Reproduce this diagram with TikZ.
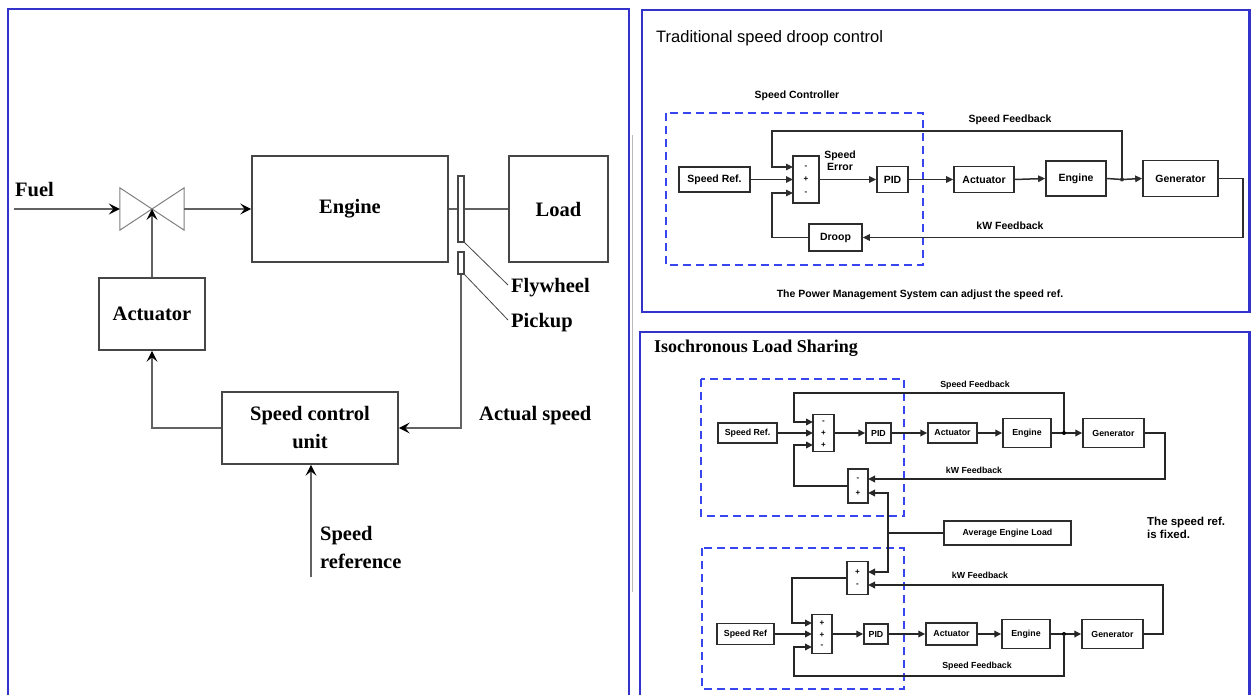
\documentclass[tikz,border=0pt]{standalone}
\usepackage{fontspec}
\setmainfont{Liberation Serif}
\newfontfamily\ars{Liberation Sans}
\usetikzlibrary{arrows.meta,calc}
\definecolor{pblue}{RGB}{51,51,204}
\definecolor{dblue}{RGB}{55,70,238}
\definecolor{lg}{RGB}{70,70,70}
\definecolor{tg}{RGB}{45,45,45}
\newcommand{\lpfont}{\fontsize{20.5}{25}\selectfont\bfseries}
\newcommand{\lptwo}{\fontsize{20.5}{28}\selectfont\bfseries}
\newcommand{\tpfont}{\ars\fontsize{10.5}{12}\selectfont\bfseries}
\newcommand{\bpfont}{\ars\fontsize{8.8}{10}\selectfont\bfseries}
\newcommand{\sgfont}{\ars\fontsize{8}{8}\selectfont\bfseries}
\begin{document}
\begin{tikzpicture}[x=1pt,y=-1pt,
  panel/.style={draw=pblue,line width=2.2pt},
  ctrl/.style={draw=dblue,line width=2.3pt,dash pattern=on 8pt off 5pt},
  lbox/.style={draw=lg,line width=1.6pt,inner sep=0pt,font=\lpfont},
  lline/.style={draw=lg!85,line width=1.2pt},
  larr/.style={lline,-{Stealth[length=11pt,width=11pt,inset=4.5pt,color=black]}},
  llab/.style={font=\lpfont,inner sep=0pt},
  tbox/.style={draw=tg,line width=1.7pt,inner sep=0pt,font=\tpfont},
  tline/.style={draw=tg,line width=1.5pt},
  tarr/.style={tline,-{Triangle[length=7pt,width=6.5pt]}},
  tlab/.style={font=\tpfont,inner sep=0pt},
  bbox/.style={draw=tg,line width=1.5pt,inner sep=0pt,font=\bpfont},
  bline/.style={draw=black!85,line width=2.1pt},
  barr/.style={bline,-{Triangle[length=7pt,width=6.5pt]}},
  blab/.style={font=\bpfont,inner sep=0pt},
  sgn/.style={font=\sgfont,inner sep=0pt},
]
\useasboundingbox (0,0) rectangle (1251,695);
\clip (0,0) rectangle (1251,695);
\fill[white] (0,0) rectangle (1251,695);

% ---------------- panels ----------------
\draw[panel] (8,720) -- (8,9) -- (629,9) -- (629,720);
\draw[gray!55,line width=0.9pt] (632,135) -- (632,592);
\draw[panel] (642,10) rectangle (1249.5,312);
\draw[panel] (640,720) -- (640,332) -- (1249.5,332) -- (1249.5,720);

% ---------------- left panel ----------------
\node[lbox,minimum width=196pt,minimum height=106pt] (eng) at (350,209) {Engine};
\node[lbox,minimum width=99pt,minimum height=106pt] (load) at (558.5,209) {Load};
\node[lbox,minimum width=106pt,minimum height=72pt] (act) at (152,314) {Actuator};
\node[lbox,minimum width=176pt,minimum height=72pt,align=center,font=\lptwo] (scu) at (310,428) {Speed control\\unit};
\node[draw=lg,line width=1.1pt,minimum width=6pt,minimum height=66pt,inner sep=0pt] (fly) at (461,209) {};
\node[draw=lg,line width=1.1pt,minimum width=6pt,minimum height=22pt,inner sep=0pt] (pick) at (461,263) {};
\node[minimum width=64pt,minimum height=42pt,inner sep=0pt] (valve) at (152,209) {};
\draw[draw=gray,line width=1pt] (valve.north west) -- (valve.south east) -- (valve.north east) -- (valve.south west) -- cycle;

\node[llab,anchor=west] (fuel) at (15,190) {Fuel};
\coordinate (fuelin) at (14,209);
\draw[larr] (fuelin) -- (valve.west);
\draw[larr] (valve.east) -- (eng.west);
\draw[larr] (act.north) -- (valve.center);
\draw[lline] (eng.east) -- (fly.west);
\draw[lline] (fly.east) -- (load.west);
\node[llab,anchor=west] (flylab) at (511,288) {Flywheel};
\node[llab,anchor=west] (picklab) at (511,323) {Pickup};
\draw[draw=lg,line width=0.8pt] (fly.south east) -- ([xshift=-3pt,yshift=3pt]flylab.west);
\draw[draw=lg,line width=0.8pt] (pick.south east) -- ([xshift=-3pt,yshift=3pt]picklab.west);
\draw[larr] (pick.south) |- (scu.east);
\draw[larr] (scu.west) -| (act.south);
\node[llab,anchor=west] (actual) at (479,416) {Actual speed};
\coordinate (sref) at (311,577);
\draw[larr] (sref) -- (scu.south -| sref);
\node[llab,anchor=north west,align=left,font=\lptwo] (srlab) at (320,526) {Speed\\reference};

% ---------------- top-right panel ----------------
\node[anchor=west,inner sep=0pt,font=\ars\fontsize{16.5}{20}\selectfont] (t1) at (656,38) {Traditional speed droop control};
\node[tlab] (scl) at (797,96) {Speed Controller};
\draw[ctrl] (666,113) rectangle (923,265);
\node[tbox,minimum width=71pt,minimum height=25pt] (sr1) at (714.5,179.5) {Speed Ref.};
\node[tbox,minimum width=26pt,minimum height=47pt] (s1) at (806,179.5) {};
\node[sgn] (s1a) at (806,167) {-};
\node[sgn] (s1b) at (806,179.5) {+};
\node[sgn] (s1c) at (806,193) {-};
\node[tbox,minimum width=31pt,minimum height=26pt] (pid1) at (892.5,179.5) {PID};
\node[tbox,minimum width=60pt,minimum height=26pt] (ac1) at (984,179.5) {Actuator};
\node[tbox,minimum width=60pt,minimum height=35pt] (en1) at (1076,178.5) {Engine};
\node[tbox,minimum width=75pt,minimum height=36pt] (ge1) at (1180.5,178.5) {Generator};
\node[tbox,minimum width=53pt,minimum height=27pt] (dr1) at (835.5,237.5) {Droop};
\coordinate (j1) at (1122,179.5);
\coordinate (s1i1) at (793,167);
\coordinate (s1i2) at (793,179.5);
\coordinate (s1i3) at (793,193);
\coordinate (sf1) at (772,131);
\coordinate (kw1) at (1243,237.5);
\coordinate (dl1) at (772,237.5);
\draw[tarr] (sr1.east) -- (s1i2);
\draw[tarr] (j1) |- (sf1) |- (s1i1);
\draw[tarr] (dr1.west) -- (dl1) |- (s1i3);
\draw[tarr] (s1.east) -- (pid1.west);
\draw[tarr] (pid1.east) -- (ac1.west);
\draw[tarr] (ac1.east) -- (en1.west);
\draw[tline] (en1.east) -- (j1);
\draw[tarr] (j1) -- (ge1.west);
\fill[tg] (j1) circle (2pt);
\draw[tarr] (ge1.east) -| (kw1) -- (dr1.east);
\node[tlab,align=center,font=\ars\fontsize{10.5}{12}\selectfont\bfseries] (serr) at (840,161) {Speed\\Error};
\node[tlab] (sfl1) at (1010,120) {Speed Feedback};
\node[tlab] (kwl1) at (1010,226) {kW Feedback};
\node[tlab] (pm) at (920,295) {The Power Management System can adjust the speed ref.};

% ---------------- bottom-right panel ----------------
\node[anchor=west,inner sep=0pt,font=\fontsize{18}{20}\selectfont\bfseries] (t2) at (654,348) {Isochronous Load Sharing};
\draw[ctrl] (701,379) rectangle (904,516);
\draw[ctrl] (702,548) rectangle (904,689);

% upper unit
\node[bbox,minimum width=59pt,minimum height=20pt] (srA) at (747.5,433) {Speed Ref.};
\node[bbox,minimum width=21pt,minimum height=37pt] (sA) at (823.5,433) {};
\node[sgn] (sAa) at (823.5,422) {-};
\node[sgn] (sAb) at (823.5,433.5) {+};
\node[sgn] (sAc) at (823.5,445) {+};
\node[bbox,minimum width=25pt,minimum height=20pt] (pidA) at (878.5,433) {PID};
\node[bbox,minimum width=49pt,minimum height=20pt] (acA) at (952.5,433) {Actuator};
\node[bbox,minimum width=48pt,minimum height=29pt] (enA) at (1027,433) {Engine};
\node[bbox,minimum width=61pt,minimum height=29pt] (geA) at (1113.5,433) {Generator};
\node[bbox,minimum width=20pt,minimum height=34pt] (qA) at (858,486) {};
\node[sgn] (qAa) at (858,479) {-};
\node[sgn] (qAb) at (858,493) {+};
\coordinate (jA) at (1064,433);
\coordinate (sAi1) at (813,422);
\coordinate (sAi2) at (813,433);
\coordinate (sAi3) at (813,445);
\coordinate (sfA) at (794,393);
\coordinate (kwA) at (1165,479);
\coordinate (qAi1) at (868,479);
\coordinate (qAi2) at (868,493);
\coordinate (fbA) at (794,486);
\draw[barr] (srA.east) -- (sAi2);
\draw[barr] (jA) |- (sfA) |- (sAi1);
\draw[barr] (sA.east) -- (pidA.west);
\draw[barr] (pidA.east) -- (acA.west);
\draw[barr] (acA.east) -- (enA.west);
\draw[bline] (enA.east) -- (jA);
\draw[barr] (jA) -- (geA.west);
\fill (jA) circle (2pt);
\draw[barr] (geA.east) -| (kwA) -- (qAi1);
\draw[barr] (qA.west) -- (fbA) |- (sAi3);

% average load
\node[bbox,minimum width=127pt,minimum height=24pt] (avg) at (1007.5,533) {Average Engine Load};
\coordinate (bus) at (888,533);
\draw[bline] (avg.west) -- (bus);

% lower unit
\node[bbox,minimum width=21pt,minimum height=33pt] (qB) at (857.5,578) {};
\node[sgn] (qBa) at (857.5,572) {+};
\node[sgn] (qBb) at (857.5,585) {-};
\node[bbox,minimum width=20pt,minimum height=39pt] (sB) at (822,634) {};
\node[sgn] (sBa) at (822,623) {+};
\node[sgn] (sBb) at (822,635) {+};
\node[sgn] (sBc) at (822,646) {-};
\node[bbox,minimum width=57pt,minimum height=21pt] (srB) at (745.5,634) {Speed Ref};
\node[bbox,minimum width=24pt,minimum height=20pt] (pidB) at (876,634) {PID};
\node[bbox,minimum width=51pt,minimum height=22pt] (acB) at (951.5,634) {Actuator};
\node[bbox,minimum width=48pt,minimum height=29pt] (enB) at (1026,634) {Engine};
\node[bbox,minimum width=61pt,minimum height=29pt] (geB) at (1112.5,634) {Generator};
\coordinate (jB) at (1064,634);
\coordinate (qBi1) at (868,572);
\coordinate (qBi2) at (868,585);
\coordinate (sBi1) at (812,623);
\coordinate (sBi2) at (812,634);
\coordinate (sBi3) at (812,647);
\coordinate (sfB) at (794,676);
\coordinate (kwB) at (1163,585);
\coordinate (fbB) at (792,578);
\draw[barr] (bus) |- (qAi2);
\draw[barr] (bus) |- (qBi1);
\draw[barr] (srB.east) -- (sBi2);
\draw[barr] (sB.east) -- (pidB.west);
\draw[barr] (pidB.east) -- (acB.west);
\draw[barr] (acB.east) -- (enB.west);
\draw[bline] (enB.east) -- (jB);
\draw[barr] (jB) -- (geB.west);
\fill (jB) circle (2pt);
\draw[barr] (jB) |- (sfB) |- (sBi3);
\draw[barr] (geB.east) -| (kwB) -- (qBi2);
\draw[barr] (qB.west) -- (fbB) |- (sBi1);

\node[blab] (sflA) at (975,385) {Speed Feedback};
\node[blab] (kwlA) at (974,470) {kW Feedback};
\node[blab] (kwlB) at (980,575) {kW Feedback};
\node[blab] (sflB) at (977,666) {Speed Feedback};
\node[anchor=north west,inner sep=0pt,align=left,font=\ars\fontsize{11.5}{13}\selectfont\bfseries] (fixed) at (1147,517) {The speed ref.\\is fixed.};
\end{tikzpicture}
\end{document}
